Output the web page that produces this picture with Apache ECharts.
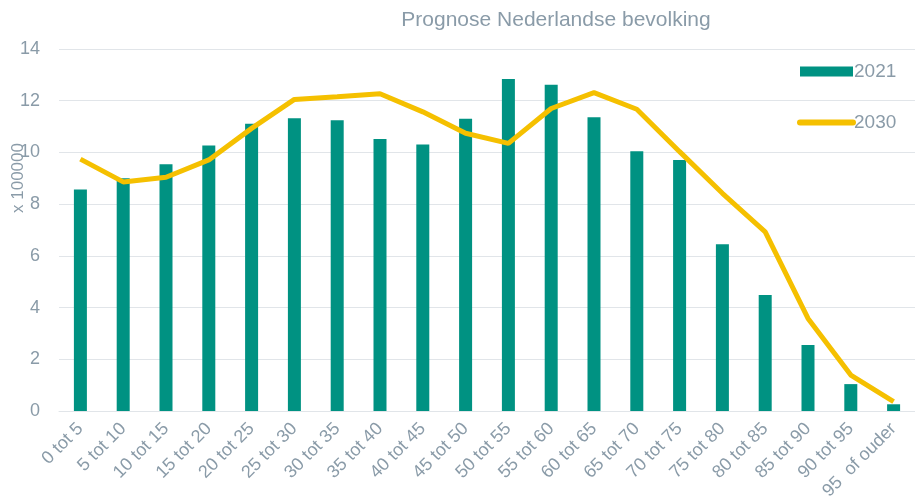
<!DOCTYPE html>
<html>
<head>
<meta charset="utf-8">
<script src="https://cdn.jsdelivr.net/npm/echarts@6/dist/echarts.min.js"></script>
<style>
  html, body { margin: 0; padding: 0; background: #fff; }
  #chart { width: 915px; height: 501px; }
</style>
</head>
<body>
<div id="chart"></div>
<script>
// leeftijdsgroepen
var categories = ['0 tot 5', '5 tot 10', '10 tot 15', '15 tot 20', '20 tot 25', '25 tot 30',
    '30 tot 35', '35 tot 40', '40 tot 45', '45 tot 50', '50 tot 55', '55 tot 60',
    '60 tot 65', '65 tot 70', '70 tot 75', '75 tot 80', '80 tot 85', '85 tot 90',
    '90 tot 95', '95  of ouder'];

// x 100000
var values2021 = [8.57, 9.0, 9.54, 10.27, 11.11, 11.32, 11.24, 10.52, 10.31, 11.30,
    12.84, 12.62, 11.36, 10.05, 9.71, 6.45, 4.49, 2.55, 1.04, 0.26];
var values2030 = [9.74, 8.86, 9.04, 9.71, 10.93, 12.05, 12.15, 12.27, 11.57, 10.74,
    10.35, 11.70, 12.31, 11.67, 10.03, 8.42, 6.93, 3.58, 1.39, 0.36];

var textColor = '#8a9ba8';

var myChart = echarts.init(document.getElementById('chart'));
var option = {
    animation: false,
    title: {
        text: 'Prognose Nederlandse bevolking',
        left: 551,
        top: 5,
        textAlign: 'center',
        textStyle: {
            color: textColor,
            fontFamily: 'Liberation Sans',
            fontSize: 21,
            fontWeight: 'normal'
        }
    },
    legend: {
        orient: 'vertical',
        left: 792,
        top: 57,
        itemWidth: 53,
        itemHeight: 10,
        itemGap: 32,
        textStyle: {
            color: textColor,
            fontFamily: 'Liberation Sans',
            fontSize: 19,
            padding: [0, 0, 0, -4]
        },
        data: [
            { name: '2021', icon: 'rect' },
            { name: '2030', itemStyle: { opacity: 0 }, lineStyle: { width: 6, cap: 'round' } }
        ]
    },
    grid: {
        left: 59,
        right: 0,
        top: 49,
        bottom: 90,
        containLabel: false,
        outerBoundsMode: 'none'
    },
    xAxis: {
        type: 'category',
        data: categories,
        axisTick: { show: false },
        axisLine: { lineStyle: { color: '#e1e5e9', width: 1 } },
        axisLabel: {
            interval: 0,
            rotate: 45,
            margin: 15,
            color: textColor,
            fontFamily: 'Liberation Sans',
            fontSize: 18
        }
    },
    yAxis: {
        type: 'value',
        min: 0,
        max: 14,
        interval: 2,
        axisLine: { show: false },
        axisTick: { show: false },
        splitLine: { lineStyle: { color: '#e1e5e9', width: 1 } },
        axisLabel: {
            margin: 19,
            color: textColor,
            fontFamily: 'Liberation Sans',
            fontSize: 18
        }
    },
    graphic: [{
        type: 'text',
        x: 18,
        y: 178,
        rotation: Math.PI / 2,
        style: {
            text: 'x 100000',
            fill: textColor,
            font: '17px "Liberation Sans"',
            align: 'center',
            verticalAlign: 'middle'
        }
    }],
    series: [
        {
            name: '2021',
            type: 'bar',
            data: values2021,
            barWidth: 13,
            itemStyle: { color: '#009282' }
        },
        {
            name: '2030',
            type: 'line',
            data: values2030,
            symbol: 'none',
            lineStyle: { color: '#f5c000', width: 5 },
            itemStyle: { color: '#f5c000' }
        }
    ]
};
myChart.setOption(option);
</script>
</body>
</html>
